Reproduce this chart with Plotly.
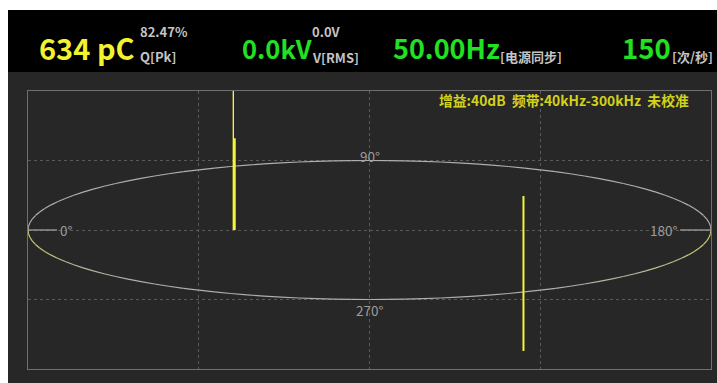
import numpy as np
import plotly.graph_objects as go

# ---- readings shown in the header bar ----
charge_value = "634 pC"
charge_pct = "82.47%"
charge_tag = "Q[Pk]"
voltage_value = "0.0kV"
voltage_raw = "0.0V"
voltage_tag = "V[RMS]"
freq_value = "50.00Hz"
freq_tag = "[电源同步]"
rate_value = "150"
rate_tag = "[次/秒]"
status_text = "增益:40dB  频带:40kHz-300kHz  未校准"

# ---- phase reference labels on the ellipse ----
phase_labels = ["0°", "90°", "180°", "270°"]

# ---- discharge pulses: phase (deg) and vertical extent (display units) ----
pulse_phase = [66.5, 66.7, 243.2]
pulse_high = [2.0, 1.32, 0.49]
pulse_low = [0.0, 0.0, -1.74]
pulse_width = [1.4, 2.6, 2.0]

W, H = 717, 383
FONT = "Noto Sans CJK SC"


def px(x):
    return x / W


def py(y):
    return 1 - y / H


fig = go.Figure()

# elliptical time base: 0° left, 90° top, 180° right, 270° bottom
gray = np.array([175, 175, 175])
yellow = np.array([210, 210, 100])


def tint(theta):
    if 180 <= theta <= 235:
        return 1 - (theta - 180) / 55
    if 315 <= theta <= 360:
        return (theta - 315) / 45
    return 0.0


step = 3
for a in range(0, 360, step):
    th = np.radians(np.linspace(a, a + step, 6))
    w = tint(a + step / 2)
    c = (gray * (1 - w) + yellow * w).astype(int)
    fig.add_trace(go.Scatter(
        x=-np.cos(th), y=np.sin(th), mode="lines",
        line=dict(color=f"rgb({c[0]},{c[1]},{c[2]})", width=1.2),
        hoverinfo="skip", showlegend=False))

# short reference ticks at 0° and 180°
for xs in ([-1, -0.915], [0.909, 1]):
    fig.add_trace(go.Scatter(x=xs, y=[0, 0], mode="lines",
                             line=dict(color="#a8a8a8", width=1.2),
                             hoverinfo="skip", showlegend=False))

# pulses
for ph, hi, lo, lw in zip(pulse_phase, pulse_high, pulse_low, pulse_width):
    xv = -np.cos(np.radians(ph))
    fig.add_trace(go.Scatter(x=[xv, xv], y=[lo, hi], mode="lines",
                             line=dict(color="#f4f43a", width=lw),
                             hoverinfo="skip", showlegend=False))

annotations = []


def hdr(text, x, y, size, color, anchor="left", bold=False):
    t = f"<b>{text}</b>" if bold else text
    annotations.append(dict(text=t, x=px(x), y=py(y), xref="paper", yref="paper",
                            xanchor=anchor, yanchor="middle", showarrow=False,
                            font=dict(family=FONT, size=size, color=color)))


YEL = "#f2f22e"
GRN = "#22e022"
SUB = "#c4c4c4"

hdr(charge_value, 37, 47, 29, YEL, bold=True)
hdr(charge_pct, 138, 31.5, 13, SUB, bold=True)
hdr(charge_tag, 138, 56, 13, SUB, bold=True)
hdr(voltage_value, 240, 47, 25.5, GRN, bold=True)
hdr(voltage_raw, 310, 31.5, 13, SUB, bold=True)
hdr(voltage_tag, 310, 58, 13, SUB, bold=True)
hdr(freq_value, 391, 47, 27, GRN, bold=True)
hdr(freq_tag, 498, 56, 13, SUB, bold=True)
hdr(rate_value, 620, 47, 27.5, GRN, bold=True)
hdr(rate_tag, 670, 56, 13, SUB, bold=True)

hdr(status_text, 691, 99.5, 13.8, "#d2d21c", anchor="right", bold=True)

# phase labels in data coordinates
lab_pos = [(-0.912, 0, "left"), (0, 1.065, "center"), (0.906, 0, "right"), (0, -1.15, "center")]
for txt, (xx, yy, anc) in zip(phase_labels, lab_pos):
    annotations.append(dict(text=txt, x=xx, y=yy, xref="x", yref="y",
                            xanchor=anc, yanchor="middle", showarrow=False,
                            font=dict(family=FONT, size=13.5, color="#9c9c9c")))

shapes = [
    dict(type="rect", xref="paper", yref="paper", x0=px(8), x1=1, y0=0, y1=py(72),
         fillcolor="#272727", line=dict(width=0), layer="below"),
    dict(type="rect", xref="paper", yref="paper", x0=px(8), x1=1, y0=py(72), y1=py(10),
         fillcolor="#000000", line=dict(width=0), layer="below"),
]

axis_common = dict(showgrid=True, gridcolor="#5a5a5a", griddash="dot", gridwidth=1,
                   zeroline=False, showline=True, mirror=True, linecolor="#707070",
                   linewidth=1, showticklabels=False, ticks="", fixedrange=True)

fig.update_layout(
    width=W, height=H, margin=dict(l=0, r=0, t=0, b=0),
    paper_bgcolor="#ffffff", plot_bgcolor="#272727",
    xaxis=dict(domain=[px(28), px(711)], range=[-1, 1], tickvals=[-0.5, 0, 0.5], **axis_common),
    yaxis=dict(domain=[py(369), py(91)], range=[-2, 2], tickvals=[-1, 0, 1], **axis_common),
    shapes=shapes, annotations=annotations, showlegend=False,
)

fig.write_html("out.html")
